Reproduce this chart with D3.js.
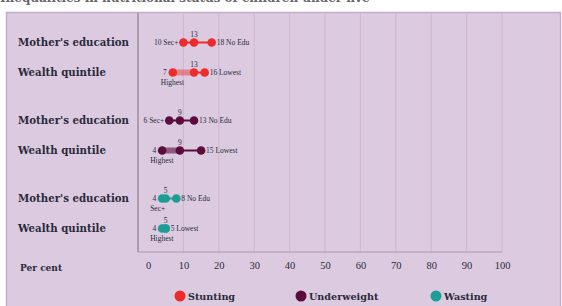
<!DOCTYPE html>
<html>
<head>
<meta charset="utf-8">
<script src="https://cdn.jsdelivr.net/npm/d3@7"></script>
<style>
  body { margin: 0; background: #fff; }
  svg { display: block; }
</style>
</head>
<body>
<div id="chart"></div>
<script>
// chart data
const groups = ["Stunting", "Underweight", "Wasting"];
const indicators = ["Mother's education", "Wealth quintile"];
// one entry per row: stunting (ME, WQ), underweight (ME, WQ), wasting (ME, WQ)
const lowValues = [10, 7, 6, 4, 4, 4];
const midValues = [13, 13, 9, 9, 5, 5];
const highValues = [18, 16, 13, 15, 8, 5];
const lowLabels = ["Sec+", "Highest", "Sec+", "Highest", "Sec+", "Highest"];
const highLabels = ["No Edu", "Lowest", "No Edu", "Lowest", "No Edu", "Lowest"];
const xTicks = [0, 10, 20, 30, 40, 50, 60, 70, 80, 90, 100];
const colors = ["#ee2b2b", "#5b0b3c", "#1c9d96"];

const W = 562, H = 306;
const svg = d3.select('#chart').append('svg')
    .attr('width', W)
    .attr('height', H);

// panel
svg.append('rect')
    .attr('x', 6.5).attr('y', 12.5)
    .attr('width', 554).attr('height', 300)
    .attr('fill', '#dccbe0')
    .attr('stroke', '#c7a9cd')
    .attr('stroke-width', 1.5);

// title, mostly cut off at the top
svg.append('text')
    .attr('x', 0).attr('y', 1.5)
    .style('font', 'bold 12px "DejaVu Serif"')
    .attr('fill', '#666')
    .text('Inequalities in nutritional status of children under five');

// scales
const x = d3.scaleLinear().domain([0, 100]).range([148, 502]);
const yGroup = d3.scaleBand().domain(groups).range([18.5, 252.5]);
const yInner = d3.scalePoint().domain(indicators).range([0, yGroup.bandwidth()]).padding(0.8);
const rowY = i => yGroup(groups[Math.floor(i / 2)]) + yInner(indicators[i % 2]);

const axisLeftX = 138, axisBottomY = 252;

// grid
svg.append('g')
    .selectAll('line')
    .data(xTicks.filter(d => d > 0))
    .join('line')
    .attr('x1', d => x(d)).attr('x2', d => x(d))
    .attr('y1', 13).attr('y2', axisBottomY)
    .attr('stroke', '#cfb8d4')
    .attr('stroke-width', 1.2);

// axis lines
svg.append('line')
    .attr('x1', axisLeftX).attr('x2', axisLeftX)
    .attr('y1', 13).attr('y2', axisBottomY)
    .attr('stroke', '#8c7d90').attr('stroke-width', 1.2);
svg.append('line')
    .attr('x1', axisLeftX).attr('x2', x(100))
    .attr('y1', axisBottomY).attr('y2', axisBottomY)
    .attr('stroke', '#a996ad').attr('stroke-width', 1.2);

// x tick labels
const xAxis = d3.axisBottom(x).tickValues(xTicks).tickSize(0).tickPadding(0);
const xAxisGroup = svg.append('g')
    .attr('transform', 'translate(0,' + 262 + ')')
    .call(xAxis);
xAxisGroup.select('.domain').remove();
xAxisGroup.selectAll('text')
    .style('font', '10.5px "Liberation Serif"')
    .attr('fill', '#2a2a3a');

svg.append('text')
    .attr('x', 20).attr('y', 271)
    .style('font', 'bold 9px "DejaVu Serif"')
    .attr('fill', '#2a2a3a')
    .text('Per cent');

// row labels
const rows = d3.range(lowValues.length);
svg.append('g')
    .selectAll('text')
    .data(rows)
    .join('text')
    .attr('x', 18)
    .attr('y', i => rowY(i) + 3.5)
    .style('font', 'bold 10.2px "DejaVu Serif"')
    .attr('fill', '#2a2a3a')
    .text(i => indicators[i % 2]);

// dumbbells
const thickRows = [1, 3, 4, 5];
const thickOpacity = [0.45, 0.6, 1];
const marks = svg.append('g');

rows.forEach(i => {
    const g = Math.floor(i / 2);
    const c = colors[g];
    const y = rowY(i);
    const thick = thickRows.includes(i);

    marks.append('line')
        .attr('x1', x(midValues[i])).attr('x2', x(highValues[i]))
        .attr('y1', y).attr('y2', y)
        .attr('stroke', c).attr('stroke-width', 2);
    marks.append('line')
        .attr('x1', x(lowValues[i])).attr('x2', x(midValues[i]))
        .attr('y1', y).attr('y2', y)
        .attr('stroke', c)
        .attr('stroke-opacity', thick ? thickOpacity[g] : 1)
        .attr('stroke-width', thick ? 6 : 2);

    marks.selectAll(null)
        .data([lowValues[i], midValues[i], highValues[i]])
        .join('circle')
        .attr('cx', d => x(d))
        .attr('cy', y)
        .attr('r', 4.3)
        .attr('fill', c);

    // value labels
    const small = '7.5px "Liberation Serif"';
    marks.append('text')
        .attr('x', x(midValues[i])).attr('y', y - 6)
        .attr('text-anchor', 'middle')
        .style('font', small).attr('fill', '#2a2a3a')
        .text(midValues[i]);
    marks.append('text')
        .attr('x', x(highValues[i]) + 5).attr('y', y + 2.5)
        .style('font', small).attr('fill', '#2a2a3a')
        .text(highValues[i] + ' ' + highLabels[i]);

    if (i === 0 || i === 2) {
        marks.append('text')
            .attr('x', x(lowValues[i]) - 5).attr('y', y + 2.5)
            .attr('text-anchor', 'end')
            .style('font', small).attr('fill', '#2a2a3a')
            .text(lowValues[i] + ' ' + lowLabels[i]);
    } else {
        marks.append('text')
            .attr('x', x(lowValues[i]) - 6).attr('y', y + 2.5)
            .attr('text-anchor', 'end')
            .style('font', small).attr('fill', '#2a2a3a')
            .text(lowValues[i]);
        marks.append('text')
            .attr('x', x(lowValues[i]) - 12).attr('y', y + 12)
            .style('font', small).attr('fill', '#2a2a3a')
            .text(lowLabels[i]);
    }
});

// legend
const legendX = [180, 301, 436];
const legend = svg.append('g')
    .selectAll('g')
    .data(groups)
    .join('g')
    .attr('transform', (d, i) => 'translate(' + legendX[i] + ',' + 296 + ')');
legend.append('circle')
    .attr('r', 5.5)
    .attr('fill', (d, i) => colors[i]);
legend.append('text')
    .attr('x', 8).attr('y', 3.5)
    .style('font', 'bold 9.6px "DejaVu Serif"')
    .attr('fill', '#2a2a3a')
    .text(d => d);
</script>
</body>
</html>
